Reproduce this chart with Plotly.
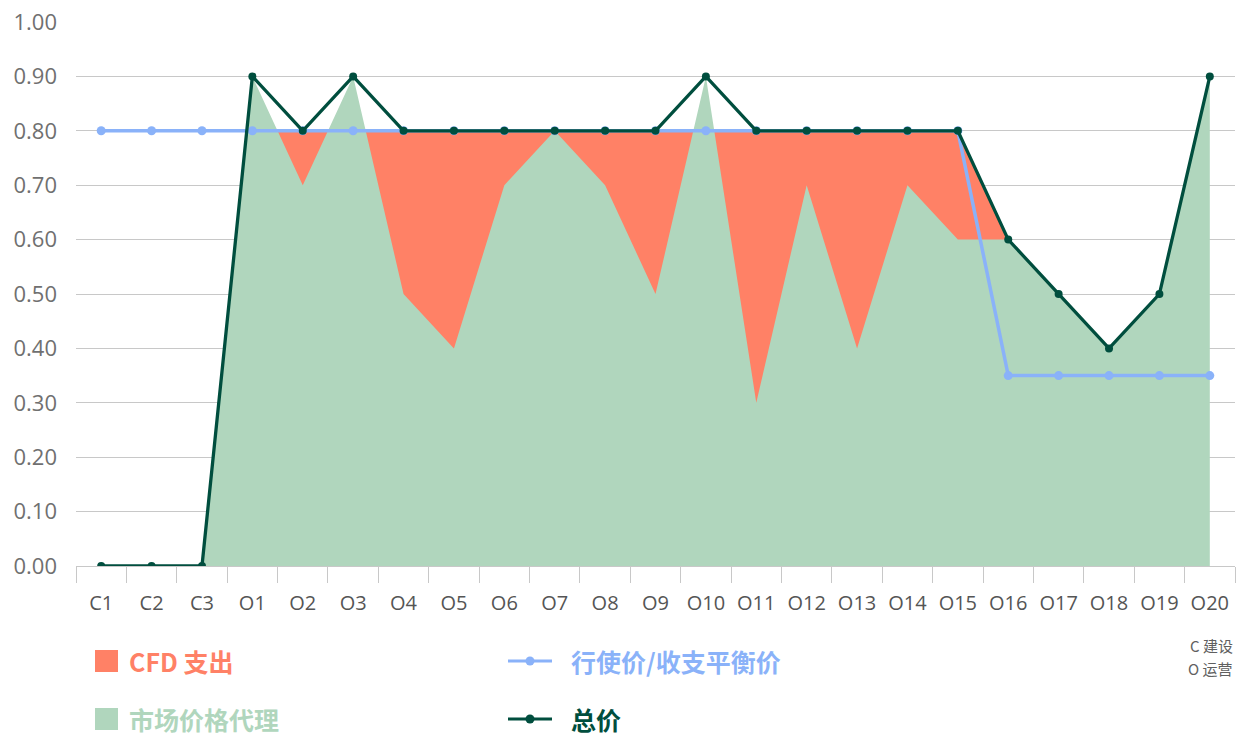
import plotly.graph_objects as go

categories = ["C1", "C2", "C3", "O1", "O2", "O3", "O4", "O5", "O6", "O7", "O8", "O9",
              "O10", "O11", "O12", "O13", "O14", "O15", "O16", "O17", "O18", "O19", "O20"]
market_price = [0, 0, 0, 0.9, 0.7, 0.9, 0.5, 0.4, 0.7, 0.8, 0.7, 0.5,
                0.9, 0.3, 0.7, 0.4, 0.7, 0.6, 0.6, 0.5, 0.4, 0.5, 0.9]
cfd_upper = [0, 0, 0, 0.8, 0.8, 0.8, 0.8, 0.8, 0.8, 0.8, 0.8, 0.8,
             0.8, 0.8, 0.8, 0.8, 0.8, 0.8, 0.6, 0, 0, 0, 0]
strike_price = [0.8, 0.8, 0.8, 0.8, 0.8, 0.8, 0.8, 0.8, 0.8, 0.8, 0.8, 0.8,
                0.8, 0.8, 0.8, 0.8, 0.8, 0.8, 0.35, 0.35, 0.35, 0.35, 0.35]
total_price = [0, 0, 0, 0.9, 0.8, 0.9, 0.8, 0.8, 0.8, 0.8, 0.8, 0.8,
               0.9, 0.8, 0.8, 0.8, 0.8, 0.8, 0.6, 0.5, 0.4, 0.5, 0.9]
y_ticks = [0, 0.1, 0.2, 0.3, 0.4, 0.5, 0.6, 0.7, 0.8, 0.9, 1.0]
legend_labels = ["CFD 支出", "行使价/收支平衡价", "市场价格代理", "总价"]
phase_notes = ["C 建设", "O 运营"]

RED = "#ff8166"
GREEN = "#b0d6bd"
BLUE = "#8ab2f9"
DARK = "#004e3e"
FONT = "'Open Sans', 'Noto Sans CJK SC', sans-serif"
CJK = "'Noto Sans CJK SC', sans-serif"

W, H = 1237, 736
ML, MR, MT, MB = 76, 2, 22, 170
PW, PH = W - ML - MR, H - MT - MB


def px(xp):
    return (xp - ML) / PW


def py(yp):
    return (H - MB - yp) / PH


fig = go.Figure()
fig.add_trace(go.Scatter(x=categories, y=cfd_upper, mode="none", fill="tozeroy",
                         fillcolor=RED, name=legend_labels[0], hoverinfo="skip"))
fig.add_trace(go.Scatter(x=categories, y=market_price, mode="none", fill="tozeroy",
                         fillcolor=GREEN, name=legend_labels[2], hoverinfo="skip"))
fig.add_trace(go.Scatter(x=categories, y=strike_price, mode="lines+markers",
                         line=dict(color=BLUE, width=3.5), marker=dict(color=BLUE, size=9),
                         name=legend_labels[1]))
fig.add_trace(go.Scatter(x=categories, y=total_price, mode="lines+markers",
                         line=dict(color=DARK, width=3.3), marker=dict(color=DARK, size=8),
                         name=legend_labels[3]))

# manual legend (symbols + real text)
shapes = []
annotations = []
rows = [(661, [(RED, "fill", legend_labels[0], 95), (BLUE, "line", legend_labels[1], 508)]),
        (719, [(GREEN, "fill", legend_labels[2], 95), (DARK, "line", legend_labels[3], 508)])]
for yc, items in rows:
    for color, kind, label, x0 in items:
        if kind == "fill":
            shapes.append(dict(type="rect", xref="paper", yref="paper",
                               x0=px(x0), x1=px(x0 + 23), y0=py(yc - 11), y1=py(yc + 11),
                               fillcolor=color, line=dict(width=0)))
            tx = x0 + 33
        else:
            shapes.append(dict(type="line", xref="paper", yref="paper",
                               x0=px(x0), x1=px(x0 + 44), y0=py(yc), y1=py(yc),
                               line=dict(color=color, width=3)))
            shapes.append(dict(type="circle", xref="paper", yref="paper",
                               xsizemode="pixel", ysizemode="pixel",
                               xanchor=px(x0 + 22), yanchor=py(yc),
                               x0=-4.5, x1=4.5, y0=-4.5, y1=4.5,
                               fillcolor=color, line=dict(width=0)))
            tx = x0 + 62
        annotations.append(dict(xref="paper", yref="paper", x=px(tx), y=py(yc),
                                xanchor="left", yanchor="middle", showarrow=False,
                                text=f"<b>{label}</b>", borderpad=0,
                                font=dict(family=CJK, size=25, color=color)))

for note, yc in zip(phase_notes, [645, 668]):
    annotations.append(dict(xref="paper", yref="paper", x=px(1235), y=py(yc),
                            xanchor="right", yanchor="middle", showarrow=False,
                            text=note, font=dict(family=CJK, size=15, color="#606060")))

fig.update_layout(
    width=W, height=H,
    margin=dict(l=ML, r=MR, t=MT, b=MB, pad=0),
    paper_bgcolor="white", plot_bgcolor="white",
    font=dict(family=FONT, color="#707070"),
    showlegend=False,
    shapes=shapes,
    annotations=annotations,
    xaxis=dict(
        type="category", range=[-0.5, 22.5], automargin=False,
        showgrid=False, showline=True, linecolor="#c8c8c8", linewidth=1,
        ticks="outside", tickson="boundaries", ticklen=16, tickcolor="#c8c8c8",
        ticklabelstandoff=19,
        tickfont=dict(size=20, color="#555555", family=FONT),
        zeroline=False,
    ),
    yaxis=dict(
        range=[0, 1.0], tickvals=y_ticks, tickformat=".2f", automargin=False,
        showgrid=True, gridcolor="#c8c8c8", gridwidth=1.2,
        zeroline=False, showline=False, ticks="",
        ticklabelstandoff=18,
        tickfont=dict(size=22, color="#707070", family=FONT),
    ),
)

fig.write_html("out.html", config={"displayModeBar": False},
               post_script="document.body.style.margin='0px';")
